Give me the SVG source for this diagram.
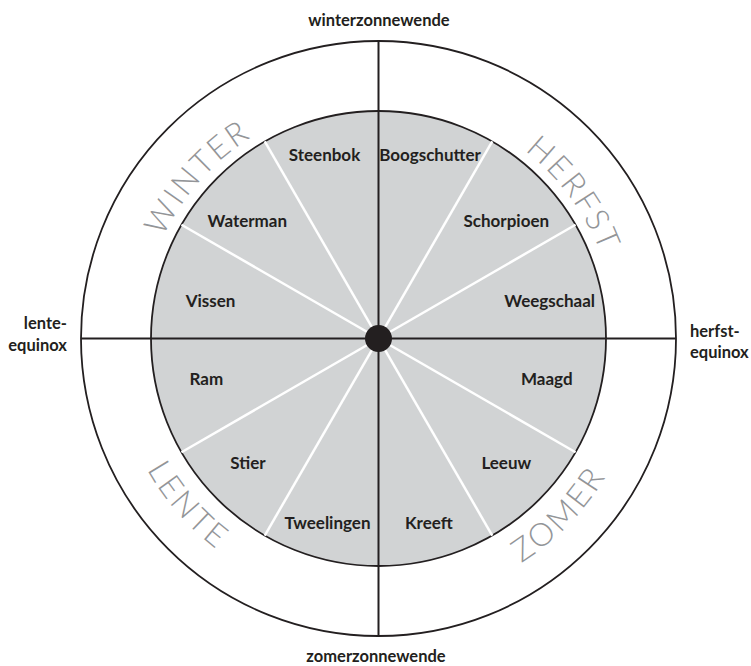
<svg xmlns="http://www.w3.org/2000/svg" width="751" height="666" viewBox="0 0 751 666">
<defs>
<style>
.lbl{font-family:Lato,"Open Sans","Liberation Sans",sans-serif;font-weight:700;font-size:17px;fill:#231f20;text-anchor:middle}
.out{font-family:Lato,"Open Sans","Liberation Sans",sans-serif;font-weight:700;font-size:16.5px;fill:#231f20}
.season{font-family:Lato,"Open Sans","Liberation Sans",sans-serif;font-weight:300;font-size:32px;fill:#939598;letter-spacing:2.5px;text-anchor:middle}
.wl{stroke:#ffffff;stroke-width:2.5}
.bl{stroke:#231f20;stroke-width:2}
</style>
<path id="topArc" d="M 140.5,338.5 A 238 238 0 0 1 616.5,338.5" fill="none"/>
<path id="botArc" d="M 112.5,338.5 A 266 266 0 0 0 644.5,338.5" fill="none"/>
</defs>
<rect width="751" height="666" fill="#ffffff"/>
<g id="wheel">
<circle cx="378.5" cy="338.5" r="297.5" fill="#ffffff" stroke="#231f20" stroke-width="1.8"/>
<circle cx="378.5" cy="338.5" r="227.5" fill="#d1d3d4" stroke="#231f20" stroke-width="1.8"/>
</g>
<g id="connectors">
<line class="wl" x1="378.5" y1="338.5" x2="575.52" y2="452.25"/>
<line class="wl" x1="378.5" y1="338.5" x2="492.25" y2="535.52"/>
<line class="wl" x1="378.5" y1="338.5" x2="264.75" y2="535.52"/>
<line class="wl" x1="378.5" y1="338.5" x2="181.48" y2="452.25"/>
<line class="wl" x1="378.5" y1="338.5" x2="181.48" y2="224.75"/>
<line class="wl" x1="378.5" y1="338.5" x2="264.75" y2="141.48"/>
<line class="wl" x1="378.5" y1="338.5" x2="492.25" y2="141.48"/>
<line class="wl" x1="378.5" y1="338.5" x2="575.52" y2="224.75"/>
<line class="bl" x1="378.5" y1="41" x2="378.5" y2="636"/>
<line class="bl" x1="81" y1="338.5" x2="676" y2="338.5"/>
</g>
<g id="center"><circle cx="378.5" cy="338.5" r="13.5" fill="#231f20"/></g>
<g id="seasons">
<text class="season"><textPath href="#topArc" startOffset="173">WINTER</textPath></text>
<text class="season"><textPath href="#topArc" startOffset="596">HERFST</textPath></text>
<text class="season"><textPath href="#botArc" startOffset="191">LENTE</textPath></text>
<text class="season"><textPath href="#botArc" startOffset="630">ZOMER</textPath></text>
</g>
<g id="signs">
<text class="lbl" x="324.5" y="161">Steenbok</text>
<text class="lbl" x="430" y="161">Boogschutter</text>
<text class="lbl" x="247.3" y="226.7">Waterman</text>
<text class="lbl" x="506.3" y="226.7">Schorpioen</text>
<text class="lbl" x="210.5" y="307.3">Vissen</text>
<text class="lbl" x="549.7" y="307.3">Weegschaal</text>
<text class="lbl" x="206.3" y="385">Ram</text>
<text class="lbl" x="546.8" y="385">Maagd</text>
<text class="lbl" x="248" y="469">Stier</text>
<text class="lbl" x="506.3" y="469">Leeuw</text>
<text class="lbl" x="327.5" y="529.3">Tweelingen</text>
<text class="lbl" x="428.8" y="529.3">Kreeft</text>
</g>
<g id="points">
<text class="out" x="379" y="26" text-anchor="middle">winterzonnewende</text>
<text class="out" x="376" y="662" text-anchor="middle">zomerzonnewende</text>
<text class="out" x="67" y="329" text-anchor="end">lente-</text>
<text class="out" x="67" y="351" text-anchor="end">equinox</text>
<text class="out" x="690" y="336.7">herfst-</text>
<text class="out" x="690" y="358">equinox</text>
</g>
</svg>
